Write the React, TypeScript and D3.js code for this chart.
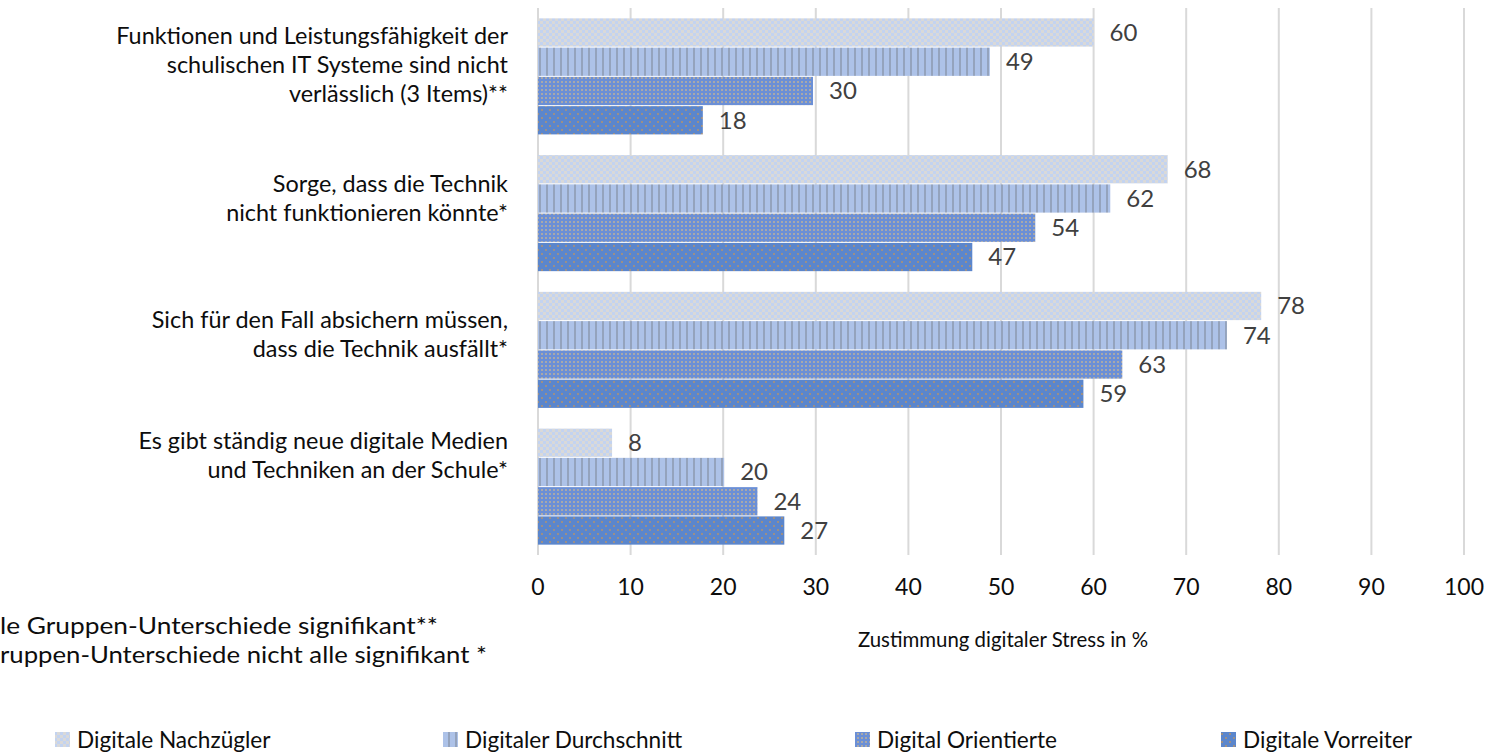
import React from "react";
import * as d3 from "d3";

const categories = [
  ["Funktionen und Leistungsfähigkeit der", "schulischen IT Systeme sind nicht", "verlässlich (3 Items)**"],
  ["Sorge, dass die Technik", "nicht funktionieren könnte*"],
  ["Sich für den Fall absichern müssen,", "dass die Technik ausfällt*"],
  ["Es gibt ständig neue digitale Medien", "und Techniken an der Schule*"],
];
const seriesNames = ["Digitale Nachzügler", "Digitaler Durchschnitt", "Digital Orientierte", "Digitale Vorreiter"];
const nachzuegler = [60.0, 68.0, 78.1, 8.0];
const durchschnitt = [48.8, 61.8, 74.4, 20.1];
const orientierte = [29.7, 53.7, 63.1, 23.7];
const vorreiter = [17.8, 46.9, 58.9, 26.6];
const xTicks = [0, 10, 20, 30, 40, 50, 60, 70, 80, 90, 100];
const footnotes = ["le Gruppen-Unterschiede signifikant**", "ruppen-Unterschiede nicht alle signifikant *"];
const axisTitle = "Zustimmung digitaler Stress in %";

const W = 1488;
const H = 755;
const FONT = "Lato, 'Open Sans', sans-serif";
const patternIds = ["pNach", "pDurch", "pOrient", "pVorr"];
const legendX = [55, 443, 855, 1221];
const labelShift = [-12, -14.5, -15.5, -31];
const footnoteWidths = [438, 487];

export default function App() {
  const series = [nachzuegler, durchschnitt, orientierte, vorreiter];
  const x = d3.scaleLinear().domain([0, 100]).range([538, 1464]);
  const y = d3
    .scaleBand<number>()
    .domain(d3.range(categories.length))
    .range([8, 555])
    .paddingInner(0.144)
    .paddingOuter(0.072);
  const yInner = d3
    .scaleBand<number>()
    .domain(d3.range(series.length))
    .range([0, y.bandwidth()]);
  const fmt = d3.format(".0f");

  return (
    <svg
      width={W}
      height={H}
      style={{ position: "absolute", left: 0, top: 0, background: "#fff" }}
      fontFamily={FONT}
    >
      <defs>
        <pattern id="pNach" width={6} height={6} patternUnits="userSpaceOnUse">
          <rect width={6} height={6} fill="#d9d9d9" />
          <rect x={0} y={0} width={3} height={3} fill="#c3d3f0" />
          <rect x={3} y={3} width={3} height={3} fill="#c3d3f0" />
        </pattern>
        <pattern id="pDurch" width={7} height={7} patternUnits="userSpaceOnUse">
          <rect width={7} height={7} fill="#adc2e8" />
          <rect x={0} y={0} width={2} height={7} fill="#94a3bd" />
        </pattern>
        <pattern id="pOrient" width={4} height={4} patternUnits="userSpaceOnUse">
          <rect width={4} height={4} fill="#6b8fd6" />
          <rect x={1} y={1} width={2} height={2} fill="#a8a8aa" />
        </pattern>
        <pattern id="pVorr" width={8} height={8} patternUnits="userSpaceOnUse">
          <rect width={8} height={8} fill="#5b86cc" />
          <rect x={1} y={1} width={2} height={2} fill="#9c8f86" />
          <rect x={5} y={5} width={2} height={2} fill="#9c8f86" />
        </pattern>
      </defs>

      {/* gridlines */}
      {xTicks.map((t) => (
        <line key={t} x1={x(t)} x2={x(t)} y1={8} y2={555} stroke="#d9d9d9" strokeWidth={2} />
      ))}

      {/* bars */}
      {categories.map((_, ci) =>
        series.map((s, si) => {
          const yy = (y(ci) as number) + (yInner(si) as number);
          const h = yInner.bandwidth();
          return (
            <g key={`${ci}-${si}`}>
              <rect
                x={x(0)}
                y={yy + 0.5}
                width={x(s[ci]) - x(0)}
                height={h - 1}
                fill={`url(#${patternIds[si]})`}
              />
              <text
                x={x(s[ci]) + 16}
                y={yy + h / 2}
                dy="0.35em"
                fontSize={24}
                fill="#404040"
              >
                {fmt(s[ci])}
              </text>
            </g>
          );
        })
      )}

      {/* category labels */}
      {categories.map((lines, ci) => {
        const cy = (y(ci) as number) + y.bandwidth() / 2 + labelShift[ci];
        const lh = 29;
        const start = cy - ((lines.length - 1) * lh) / 2;
        return (
          <text key={ci} x={508} textAnchor="end" fontSize={23.4} fill="#0d0d0d">
            {lines.map((l, li) => (
              <tspan key={li} x={508} y={start + li * lh} dy="0.35em">
                {l}
              </tspan>
            ))}
          </text>
        );
      })}

      {/* x tick labels */}
      {xTicks.map((t) => (
        <text key={t} x={x(t)} y={587} dy="0.35em" textAnchor="middle" fontSize={23} fill="#0d0d0d">
          {t}
        </text>
      ))}

      {/* axis title */}
      <text x={1003} y={640} dy="0.35em" textAnchor="middle" fontSize={20.4} fill="#0d0d0d">
        {axisTitle}
      </text>

      {/* footnotes */}
      {footnotes.map((f, i) => (
        <text
          key={i}
          x={0}
          y={626 + i * 29}
          dy="0.35em"
          fontSize={22.5}
          fill="#0d0d0d"
          textLength={footnoteWidths[i]}
          lengthAdjust="spacingAndGlyphs"
        >
          {f}
        </text>
      ))}

      {/* legend */}
      {seriesNames.map((n, i) => (
        <g key={n}>
          <rect x={legendX[i]} y={732} width={15} height={15} fill={`url(#${patternIds[i]})`} />
          <text x={legendX[i] + 22} y={740} dy="0.35em" fontSize={22.6} fill="#0d0d0d">
            {n}
          </text>
        </g>
      ))}
    </svg>
  );
}
